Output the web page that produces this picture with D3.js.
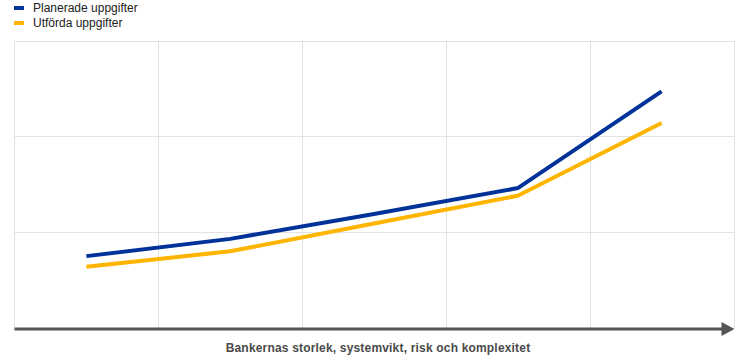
<!DOCTYPE html>
<html><head><meta charset="utf-8">
<script src="https://cdn.jsdelivr.net/npm/d3@7"></script>
<style>body{margin:0;background:#fff}svg{display:block}</style>
</head><body><svg id="c" width="744" height="359"></svg>
<script>
const categories = ["1","2","3","4","5"];
const planned = [0.75, 0.93, 1.19, 1.46, 2.47];
const performed = [0.64, 0.80, 1.09, 1.38, 2.14];
const seriesNames = ["Planerade uppgifter", "Utförda uppgifter"];
const seriesColors = ["#003299", "#ffb400"];
const yTicks = [1, 2, 3];
const xLabel = "Bankernas storlek, systemvikt, risk och komplexitet";

const svg = d3.select("#c");
const L = 14.5, R = 733.5, T = 40.5, B = 328;
const x = d3.scaleBand().domain(categories).range([L, R]);
const y = d3.scaleLinear().domain([0, 3]).range([B, T]);

const g = svg.append("g");
g.selectAll(".vg").data(categories).enter().append("line")
  .attr("x1", d => Math.round(x(d) + x.bandwidth())+0.5).attr("x2", d => Math.round(x(d) + x.bandwidth())+0.5)
  .attr("y1", T).attr("y2", B).attr("stroke", "#e2e2e2").attr("stroke-width", 1);
g.append("line").attr("x1", L).attr("x2", L).attr("y1", T).attr("y2", B).attr("stroke", "#e2e2e2");
g.selectAll(".hg").data(yTicks).enter().append("line")
  .attr("x1", L).attr("x2", R).attr("y1", d => Math.round(y(d))+0.5).attr("y2", d => Math.round(y(d))+0.5)
  .attr("stroke", "#e2e2e2");

const line = d3.line().x((d, i) => x(categories[i]) + x.bandwidth() / 2).y(d => y(d));
[planned, performed].forEach((s, i) => {
  svg.append("path").datum(s).attr("d", line).attr("fill", "none")
    .attr("stroke", seriesColors[i]).attr("stroke-width", 4).attr("stroke-linejoin", "round");
});

svg.append("line").attr("x1", L).attr("x2", R - 10).attr("y1", B + 1).attr("y2", B + 1)
  .attr("stroke", "#555").attr("stroke-width", 3);
svg.append("path").attr("d", `M${R - 12},${B - 6} L${R + 1},${B + 1} L${R - 12},${B + 8} Z`).attr("fill", "#555");

svg.append("text").attr("x", (L + R) / 2 + 4).attr("y", 352).attr("text-anchor", "middle")
  .attr("font-family", "Liberation Sans, Arial, sans-serif").attr("font-size", 12).attr("font-weight", "bold")
  .attr("letter-spacing", 0.18).attr("fill", "#4a4a4a").text(xLabel);

seriesNames.forEach((n, i) => {
  const ly = 8 + i * 15;
  svg.append("rect").attr("x", 14).attr("y", ly - 2).attr("width", 10).attr("height", 4).attr("fill", seriesColors[i]);
  svg.append("text").attr("x", 33).attr("y", ly + 4).attr("font-family", "Liberation Sans, Arial, sans-serif")
    .attr("font-size", 12).attr("fill", "#222").text(n);
});
</script></body></html>
